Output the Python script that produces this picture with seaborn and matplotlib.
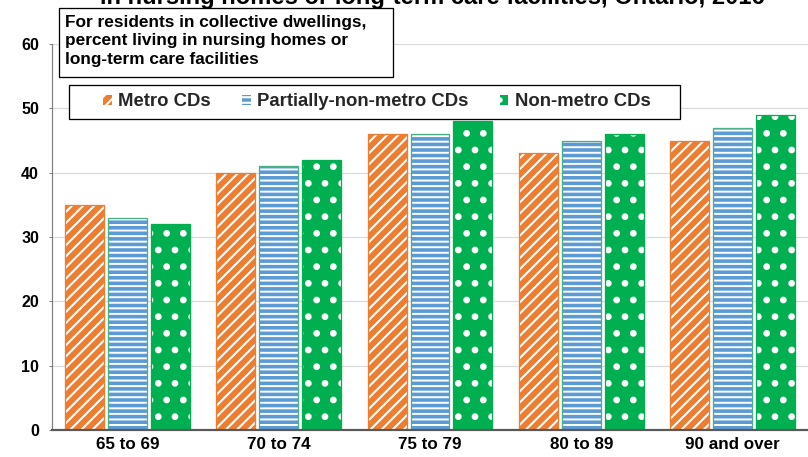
import numpy as np
import pandas as pd
import matplotlib
matplotlib.use("Agg")
import matplotlib.pyplot as plt
from matplotlib.patches import Rectangle, Patch
import seaborn as sns

# Share of collective-dwelling residents living in nursing homes / LTC facilities (%)
age_groups = ["65 to 69", "70 to 74", "75 to 79", "80 to 89", "90 and over"]
series_names = ["Metro CDs", "Partially-non-metro CDs", "Non-metro CDs"]
metro = [35, 40, 46, 43, 45]
partial = [33, 41, 46, 45, 47]
nonmetro = [32, 42, 48, 46, 49]
y_ticks = [0, 10, 20, 30, 40, 50, 60]

title_line = "in nursing homes or long-term care facilities, Ontario, 2016"
note_text = ("For residents in collective dwellings,\n"
             "percent living in nursing homes or\n"
             "long-term care facilities")

fill_colors = ["#ED7D31", "#5B9BD5", "#00B050"]
edge_colors = ["#ED7D31", "#4BAE84", "#00B050"]
hatches = ["///", "---", "."]
hatch_widths = [1.5, 1.4, 2.4]

DPI = 100
W, H = 808, 457


def pt(px):
    return px * 72 / DPI


sns.set_theme(style="white")
plt.rcParams["font.family"] = ["Liberation Sans", "DejaVu Sans"]
plt.rcParams["font.weight"] = "bold"
plt.rcParams["hatch.linewidth"] = 1.5

fig = plt.figure(figsize=(W / DPI, H / DPI), dpi=DPI)
ax = fig.add_axes([52 / W, 27 / H, (W - 52) / W, (430 - 44) / H])

df = pd.DataFrame({
    "age": age_groups * 3,
    "series": np.repeat(series_names, len(age_groups)),
    "pct": metro + partial + nonmetro,
})

sns.barplot(data=df, x="age", y="pct", hue="series", order=age_groups,
            hue_order=series_names, palette=fill_colors, saturation=1,
            width=0.85, gap=0.09, errorbar=None, legend=False, ax=ax)

# Pattern fills: white hatch on coloured face, coloured outline on top
for i, cont in enumerate(ax.containers):
    for bar in cont:
        bar.set_facecolor(fill_colors[i])
        bar.set_edgecolor("white")
        bar.set_linewidth(0)
        bar.set_hatch(hatches[i])
        if hasattr(bar, "set_hatch_linewidth"):
            bar.set_hatch_linewidth(hatch_widths[i])
        ax.add_patch(Rectangle(bar.get_xy(), bar.get_width(), bar.get_height(),
                               fill=False, edgecolor=edge_colors[i],
                               linewidth=pt(1.3), zorder=bar.get_zorder() + 0.1))

ax.set_ylim(0, 60)
ax.set_yticks(y_ticks)
ax.set_xlabel("")
ax.set_ylabel("")
ax.yaxis.grid(True, color="#D9D9D9", linewidth=pt(1.2))
ax.xaxis.grid(False)
ax.set_axisbelow(True)

for side in ("top", "right"):
    ax.spines[side].set_visible(False)
ax.spines["left"].set_color("#7F7F7F")
ax.spines["left"].set_linewidth(pt(1.2))
ax.spines["bottom"].set_color("#595959")
ax.spines["bottom"].set_linewidth(pt(2.2))

ax.tick_params(axis="y", left=True, length=pt(3), width=pt(1), color="#7F7F7F",
               direction="out", labelsize=pt(16), pad=pt(10))
ax.tick_params(axis="x", bottom=False, length=0, labelsize=pt(17), pad=pt(7))
for lab in ax.get_xticklabels() + ax.get_yticklabels():
    lab.set_fontweight("bold")
    lab.set_color("black")

# Title (second line, running off the top edge)
fig.text(432 / W, 1 - 4 / H, title_line, ha="center", va="baseline",
         fontsize=pt(23.7), fontweight="bold", color="black")

# Note box
fig.add_artist(Rectangle((59 / W, 1 - 77 / H), (393 - 59) / W, (77 - 8) / H,
                         transform=fig.transFigure, facecolor="white",
                         edgecolor="black", linewidth=pt(1.3)))
fig.text(65 / W, 1 - 15 / H, note_text, ha="left", va="top",
         fontsize=pt(17.3), fontweight="bold", linespacing=1.28, color="black")

# Legend box
fig.add_artist(Rectangle((69 / W, 1 - 119 / H), (680 - 69) / W, (119 - 85) / H,
                         transform=fig.transFigure, facecolor="white",
                         edgecolor="black", linewidth=pt(1.3)))
handles = [Patch(facecolor=fill_colors[i], edgecolor="white", hatch=hatches[i],
                 linewidth=0, label=series_names[i]) for i in range(3)]
leg = fig.legend(handles=handles, loc="center", bbox_to_anchor=(377 / W, 1 - 102 / H),
                 ncol=3, frameon=False, fontsize=pt(18.5), handlelength=0.45,
                 handleheight=0.45, handletextpad=0.35, columnspacing=1.7)
for t in leg.get_texts():
    t.set_fontweight("bold")

fig.savefig("out.png", dpi=DPI)
